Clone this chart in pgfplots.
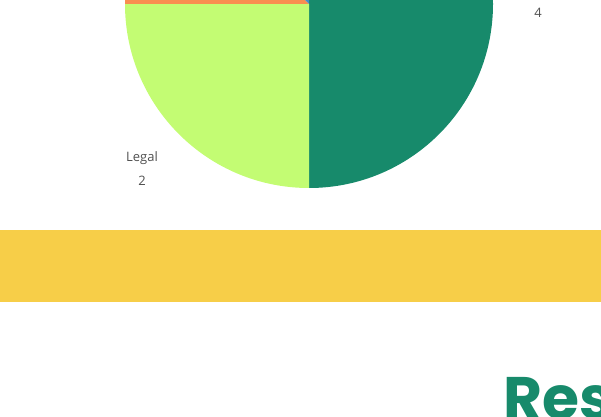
\documentclass[border=0pt]{standalone}
\usepackage{pgfplots}
\pgfplotsset{compat=1.18}
\usepackage{fontspec}
\setmainfont{Open Sans}
\newfontfamily\headfont{Poppins}
\definecolor{pieDark}{RGB}{23,138,107}
\definecolor{pieLight}{RGB}{195,252,115}
\definecolor{pieOrange}{RGB}{249,142,80}
\definecolor{pieBlue}{RGB}{70,140,200}
\definecolor{band}{RGB}{247,206,72}
\definecolor{lbl}{RGB}{80,80,80}
% pie geometry in pixel units (y measured upward)
\def\cx{309}\def\cy{412}\def\rad{184}
\def\total{8}
\gdef\startang{90}
\newcommand\pieslice[2]{%
  \pgfmathsetmacro\endang{\startang-360*#1/\total}%
  \edef\temp{\noexpand\fill[#2] (axis cs:\cx,\cy) -- ++(\startang:\rad pt) arc[start angle=\startang, end angle=\endang, radius=\rad pt] -- cycle;}%
  \temp
  \global\let\startang\endang
}
\begin{document}
\begin{tikzpicture}
\useasboundingbox (0,0) rectangle (601pt,416pt);
\clip (0,0) rectangle (601pt,416pt);
\begin{axis}[
  at={(0,0)}, anchor=south west,
  scale only axis, width=601pt, height=416pt,
  xmin=0, xmax=601, ymin=0, ymax=416,
  hide axis, clip=true,
]
% yellow band
\fill[band] (axis cs:0,186) rectangle (axis cs:601,114);
% pie slices: values 4, 2, 1, 1
\pieslice{4}{pieDark}
\pieslice{2}{pieLight}
\pieslice{1}{pieOrange}
\pieslice{1}{pieBlue}
% labels
\node[text=lbl, font=\fontsize{13}{24}\selectfont, align=center] at (axis cs:142,247) {Legal\\2};
\node[text=lbl, font=\fontsize{13}{24}\selectfont] at (axis cs:538,403) {4};
% heading
\node[anchor=base west, inner sep=0pt, text=pieDark, font=\headfont\bfseries\fontsize{60}{60}\selectfont] at (axis cs:503,-3) {Results};
\end{axis}
\end{tikzpicture}
\end{document}
